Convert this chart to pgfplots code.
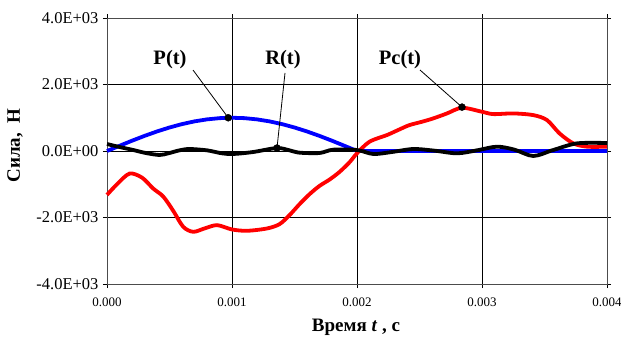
\documentclass[border=0pt]{standalone}
\usepackage{pgfplots}
\pgfplotsset{compat=1.18}
\usepackage{fontspec}
\setmainfont{Liberation Serif}
\begin{document}
\begin{tikzpicture}
\path[use as bounding box] (-107bp,-61bp) rectangle (514bp,284bp);
\begin{axis}[
  scale only axis, width=500bp, height=266bp,
  at={(0,0)}, anchor=south west,
  xmin=0, xmax=0.004, ymin=-4000, ymax=4000,
  xtick={0,0.001,0.002,0.003,0.004},
  xticklabels={0.000,0.001,0.002,0.003,0.004},
  ytick={-4000,-2000,0,2000,4000},
  yticklabels={-4.0E+03,-2.0E+03,0.0E+00,2.0E+03,4.0E+03},
  scaled x ticks=false,
  grid=major,
  major grid style={black, line width=0.7bp},
  axis line style={black!70, line width=0.8bp},
  tick align=outside, major tick length=4bp,
  tick style={black, line width=0.8bp},
  x tick label style={font=\fontsize{13bp}{15bp}\selectfont, yshift=-6bp},
  y tick label style={font=\fontsize{16.5bp}{18bp}\selectfont, xshift=-1bp},
  xlabel={\textbf{Время \textit{t} , с}},
  ylabel={\textbf{Сила,\ \ Н}},
  label style={font=\fontsize{19bp}{21bp}\selectfont},
  xlabel style={at={(axis description cs:0.498,-0.162)}, anchor=center},
  ylabel style={at={(axis description cs:-0.184,0.52)}, anchor=center},
  clip=false,
]
\addplot[blue, line width=3.8bp, no marks] coordinates {
(0,0) (0.0001,156) (0.0002,309) (0.0003,454) (0.0004,588) (0.0005,707)
(0.0006,809) (0.0007,891) (0.0008,951) (0.0009,988) (0.0010,1000)
(0.0011,988) (0.0012,951) (0.0013,891) (0.0014,809) (0.0015,707)
(0.0016,588) (0.0017,454) (0.0018,309) (0.0019,156) (0.0020,0)
(0.0030,0) (0.0040,0)
};
\addplot[red, line width=3.8bp, no marks, smooth, tension=0.5] coordinates {
(0,-1320) (0.00008,-1000) (0.00018,-680) (0.00028,-800) (0.00037,-1130)
(0.00045,-1370) (0.00053,-1800) (0.00061,-2280) (0.00069,-2430)
(0.00078,-2330) (0.00088,-2230) (0.00100,-2360) (0.00112,-2400)
(0.00128,-2330) (0.00138,-2200) (0.00146,-1930) (0.00154,-1600)
(0.00162,-1300) (0.00170,-1050) (0.00178,-860) (0.00186,-630)
(0.00194,-340) (0.00200,-70) (0.00210,280) (0.00224,480) (0.00234,650)
(0.00242,780) (0.00252,880) (0.00261,980) (0.00272,1130) (0.00284,1300)
(0.00300,1180) (0.00309,1110) (0.00325,1130) (0.00341,1080)
(0.00352,930) (0.00362,530) (0.00373,230) (0.00384,130) (0.004,130)
};
\addplot[black, line width=3.8bp, no marks, smooth, tension=0.5] coordinates {
(0,210) (0.0001,120) (0.00021,30) (0.00031,-60) (0.00042,-120)
(0.00049,-70) (0.00058,20) (0.00066,60) (0.00080,20) (0.00092,-70)
(0.00101,-90) (0.00117,-30) (0.00136,90) (0.00146,20) (0.00154,-50)
(0.00170,-60) (0.00181,40) (0.00200,30) (0.00213,-90) (0.00228,-30)
(0.00245,60) (0.00262,10) (0.00280,-70) (0.00296,20) (0.00312,130)
(0.00326,40) (0.00341,-150) (0.00357,30) (0.00376,230) (0.004,240)
};
\addplot[black, only marks, mark=*, mark size=3.5bp] coordinates {
(0.00097,1000) (0.00136,90) (0.00284,1320)
};
\draw[black, line width=0.8bp] (axis cs:0.000688,2436) -- (axis cs:0.00097,1000);
\draw[black, line width=0.8bp] (axis cs:0.001424,2346) -- (axis cs:0.00136,90);
\draw[black, line width=0.8bp] (axis cs:0.002504,2436) -- (axis cs:0.00284,1320);
\node[font=\fontsize{20.5bp}{22bp}\selectfont\bfseries] at (axis cs:0.000504,2737) {P(t)};
\node[font=\fontsize{20.5bp}{22bp}\selectfont\bfseries] at (axis cs:0.001408,2737) {R(t)};
\node[font=\fontsize{20.5bp}{22bp}\selectfont\bfseries] at (axis cs:0.002344,2737) {Pc(t)};
\end{axis}
\end{tikzpicture}
\end{document}
